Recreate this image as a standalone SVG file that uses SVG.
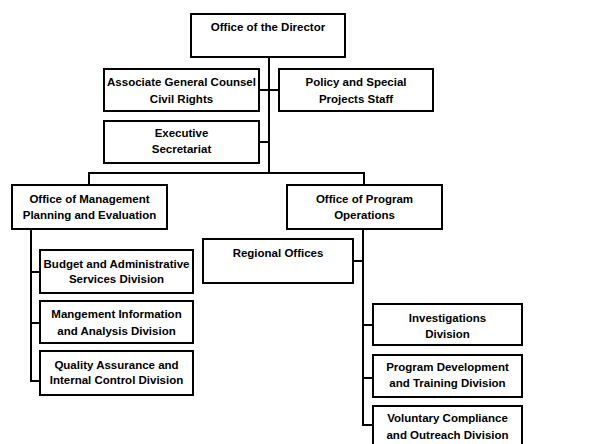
<svg xmlns="http://www.w3.org/2000/svg" width="615" height="444" viewBox="0 0 615 444">
<style>
.b{fill:#fff;stroke:#000;stroke-width:2}
.t{font-family:"Liberation Sans",Arial,sans-serif;font-weight:bold;font-size:11.5px;fill:#000;text-anchor:middle}
.c{fill:none;stroke:#000;stroke-width:2}
</style>
<rect width="615" height="444" fill="#fff"/>
<g id="connectors">
<path class="c" d="M269 57V173M89 185V173H364V185"/>
<path class="c" d="M259 90H279M259 142H269"/>
<path class="c" d="M31 229V381H40M31 272H40M31 323H40"/>
<path class="c" d="M363 229V425H373M353 261H363M363 325H373M363 378H373"/>
</g>
<g id="director"><rect class="b" x="191" y="14" width="154" height="43"/><text class="t" x="268" y="31">Office of the Director</text></g>
<g id="agc"><rect class="b" x="104" y="69" width="155" height="42"/><text class="t" x="181.5" y="86">Associate General Counsel</text><text class="t" x="181.5" y="103">Civil Rights</text></g>
<g id="policy"><rect class="b" x="279" y="69" width="154" height="42"/><text class="t" x="356" y="86">Policy and Special</text><text class="t" x="356" y="103">Projects Staff</text></g>
<g id="exec"><rect class="b" x="104" y="121" width="155" height="42"/><text class="t" x="181.5" y="137">Executive</text><text class="t" x="181.5" y="153">Secretariat</text></g>
<g id="ompe"><rect class="b" x="12" y="185" width="155" height="44"/><text class="t" x="89.5" y="203">Office of Management</text><text class="t" x="89.5" y="219">Planning and Evaluation</text></g>
<g id="opo"><rect class="b" x="287" y="185" width="155" height="44"/><text class="t" x="364.5" y="203">Office of Program</text><text class="t" x="364.5" y="219">Operations</text></g>
<g id="regional"><rect class="b" x="203" y="239" width="150" height="44"/><text class="t" x="278" y="257">Regional Offices</text></g>
<g id="budget"><rect class="b" x="40" y="250" width="153" height="43"/><text class="t" x="116.5" y="268">Budget and Administrative</text><text class="t" x="116.5" y="283">Services Division</text></g>
<g id="mis"><rect class="b" x="40" y="301" width="153" height="42"/><text class="t" x="116.5" y="318">Mangement Information</text><text class="t" x="116.5" y="335">and Analysis Division</text></g>
<g id="qa"><rect class="b" x="40" y="351" width="153" height="44"/><text class="t" x="116.5" y="369">Quality Assurance and</text><text class="t" x="116.5" y="384">Internal Control Division</text></g>
<g id="inv"><rect class="b" x="373" y="304" width="149" height="41"/><text class="t" x="447.5" y="322">Investigations</text><text class="t" x="447.5" y="338">Division</text></g>
<g id="pdt"><rect class="b" x="373" y="355" width="149" height="42"/><text class="t" x="447.5" y="371">Program Development</text><text class="t" x="447.5" y="387">and Training Division</text></g>
<g id="vco"><rect class="b" x="373" y="406" width="149" height="44"/><text class="t" x="447.5" y="422">Voluntary Compliance</text><text class="t" x="447.5" y="439">and Outreach Division</text></g>
</svg>
